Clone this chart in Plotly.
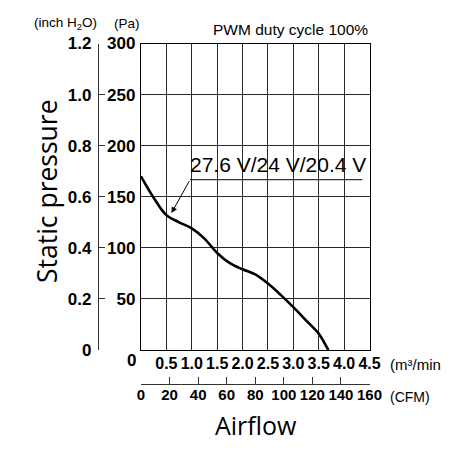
import plotly.graph_objects as go

# Data
airflow_m3min = [0, 0.25, 0.5, 0.75, 1.0, 1.25, 1.5, 1.75, 2.0, 2.25, 2.5, 2.75, 3.0, 3.25, 3.5, 3.6, 3.69]
pressure_pa = [170, 149, 132, 125, 119, 109, 95, 85, 79, 74, 65, 54, 42, 29, 16, 8, 0]

x_ticks = [0.5, 1.0, 1.5, 2.0, 2.5, 3.0, 3.5, 4.0, 4.5]
x_tick_text = ["0.5", "1.0", "1.5", "2.0", "2.5", "3.0", "3.5", "4.0", "4.5"]
pa_ticks = [50, 100, 150, 200, 250, 300]
inch_ticks = [0, 0.2, 0.4, 0.6, 0.8, 1.0, 1.2]
inch_tick_text = ["0", "0.2", "0.4", "0.6", "0.8", "1.0", "1.2"]
cfm_ticks = [0, 20, 40, 60, 80, 100, 120, 140, 160]

label_text = "27.6 V/24 V/20.4 V"
title_text = "PWM duty cycle 100%"

W = H = 450
def px(x):
    return x / W
def py(y):
    return 1 - y / H

FAM = "Liberation Sans, Arial"
YFONT = dict(family=FAM, size=17, color="black", weight="bold")
XFONT = dict(family=FAM, size=16, color="black", weight="bold")
CFONT = dict(family=FAM, size=15, color="black", weight="bold")
TEXTFONT = "Liberation Sans, Arial, Helvetica"
LABELFONT = "Open Sans, Liberation Sans"

fig = go.Figure()
fig.add_trace(go.Scatter(x=airflow_m3min, y=pressure_pa, mode="lines",
                         line=dict(color="black", width=2.6, shape="spline", smoothing=1.0),
                         showlegend=False, hoverinfo="skip"))
# invisible traces to activate secondary axes
fig.add_trace(go.Scatter(x=[0], y=[0], xaxis="x2", yaxis="y", mode="markers",
                         marker=dict(opacity=0), showlegend=False, hoverinfo="skip"))
fig.add_trace(go.Scatter(x=[0], y=[0], xaxis="x", yaxis="y2", mode="markers",
                         marker=dict(opacity=0), showlegend=False, hoverinfo="skip"))

xdom = [px(141), px(369.5)]
ydom = [py(350), py(43.5)]

fig.update_layout(
    width=W, height=H,
    margin=dict(l=0, r=0, t=0, b=0, autoexpand=False),
    paper_bgcolor="white", plot_bgcolor="white",
    xaxis=dict(domain=xdom, range=[0, 4.5], tickvals=x_ticks, ticktext=x_tick_text,
               showgrid=True, gridcolor="#2a2a2a", gridwidth=1, automargin=False,
               showline=True, linecolor="black", linewidth=1.3, mirror=True,
               zeroline=False, ticks="", tickfont=XFONT, tickangle=0, ticklabelstandoff=-1),
    yaxis=dict(domain=ydom, range=[0, 300], tickvals=pa_ticks,
               showgrid=True, gridcolor="#2a2a2a", gridwidth=1, automargin=False,
               showline=True, linecolor="black", linewidth=1.3, mirror=True,
               zeroline=False, ticks="", tickfont=YFONT, ticklabelstandoff=1),
    xaxis2=dict(overlaying="x", anchor="free", position=py(384.3), side="bottom",
                range=[0, 160], tickvals=cfm_ticks, showgrid=False, zeroline=False,
                showline=True, linecolor="#333", linewidth=1.2, automargin=False,
                ticks="inside", ticklen=7, tickcolor="#333", tickwidth=1.2,
                tickfont=CFONT, tickangle=0, ticklabelstandoff=-3),
    yaxis2=dict(overlaying="y", anchor="free", position=px(98), side="left",
                range=[0, 1.2], tickvals=inch_ticks, ticktext=inch_tick_text,
                showgrid=False, zeroline=False, automargin=False,
                showline=True, linecolor="#333", linewidth=1.2,
                ticks="inside", ticklen=6, tickcolor="#333", tickwidth=1.2,
                tickfont=YFONT, ticklabelstandoff=3),
)

ann = []
# Pa zero label
ann.append(dict(text="0", x=px(138), y=py(360), xref="paper", yref="paper",
                xanchor="right", yanchor="middle", showarrow=False, font=YFONT))
# unit labels
ann.append(dict(text="(inch H<sub>2</sub>O)", x=px(32), y=py(23), xref="paper", yref="paper",
                xanchor="left", yanchor="middle", showarrow=False,
                font=dict(family=TEXTFONT, size=13.5, color="black")))
ann.append(dict(text="(Pa)", x=px(112), y=py(23), xref="paper", yref="paper",
                xanchor="left", yanchor="middle", showarrow=False,
                font=dict(family=TEXTFONT, size=13.5, color="black")))
ann.append(dict(text="(m³/min", x=px(388), y=py(364), xref="paper", yref="paper",
                xanchor="left", yanchor="middle", showarrow=False,
                font=dict(family=TEXTFONT, size=15, color="black")))
ann.append(dict(text="(CFM)", x=px(388), y=py(397), xref="paper", yref="paper",
                xanchor="left", yanchor="middle", showarrow=False,
                font=dict(family=TEXTFONT, size=14, color="black")))
# title
ann.append(dict(text=title_text, x=px(370), y=py(30), xref="paper", yref="paper",
                xanchor="right", yanchor="middle", showarrow=False,
                font=dict(family=TEXTFONT, size=15.5, color="black")))
# axis titles
ann.append(dict(text="Static pressure", x=px(47), y=py(191), xref="paper", yref="paper",
                xanchor="center", yanchor="middle", showarrow=False, textangle=-90,
                font=dict(family=LABELFONT, size=26.5, color="black")))
ann.append(dict(text="Airflow", x=px(256), y=py(425), xref="paper", yref="paper",
                xanchor="center", yanchor="middle", showarrow=False,
                font=dict(family=LABELFONT, size=25, color="black")))
# curve label
ann.append(dict(text=label_text, x=2.69, y=168.5, xref="x", yref="y",
                xanchor="center", yanchor="bottom", showarrow=False,
                font=dict(family=TEXTFONT, size=21, color="black")))
# arrow
ann.append(dict(text="", x=0.60, y=134, xref="x", yref="y",
                ax=0.965, ay=166.7, axref="x", ayref="y",
                showarrow=True, arrowhead=2, arrowsize=1.2, arrowwidth=1, arrowcolor="black"))
fig.update_layout(annotations=ann)

fig.add_shape(type="line", x0=0.965, x1=4.36, y0=166.7, y1=166.7, xref="x", yref="y",
              line=dict(color="black", width=1))

fig.write_html("out.html")
